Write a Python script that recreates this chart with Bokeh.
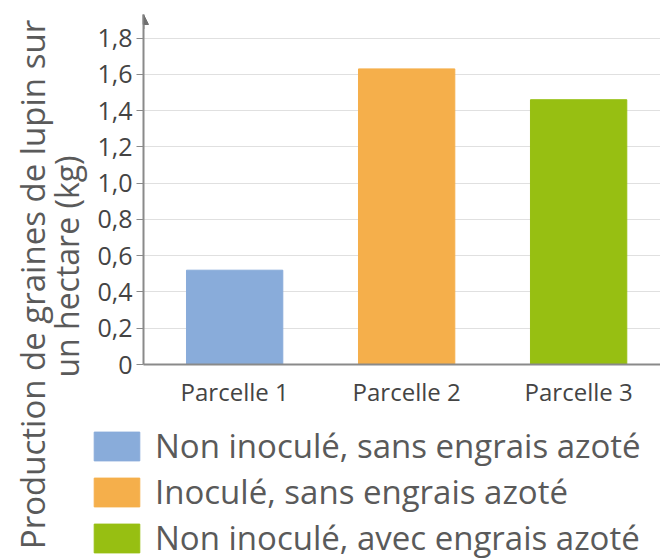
import math
from bokeh.plotting import figure
from bokeh.layouts import row, column
from bokeh.models import (ColumnDataSource, FixedTicker, Range1d, Label, Legend,
                          LegendItem, Arrow, NormalHead)
from bokeh.embed import file_html
from bokeh.resources import INLINE

categories = ["Parcelle 1", "Parcelle 2", "Parcelle 3"]
values = [0.52, 1.63, 1.46]
series_labels = ["Non inoculé, sans engrais azoté",
                 "Inoculé, sans engrais azoté",
                 "Non inoculé, avec engrais azoté"]
colors = ["#89acda", "#f5af4b", "#97bf12"]
y_ticks = [0, 0.2, 0.4, 0.6, 0.8, 1.0, 1.2, 1.4, 1.6, 1.8]
y_tick_labels = ["0", "0,2", "0,4", "0,6", "0,8", "1,0", "1,2", "1,4", "1,6", "1,8"]
y_label_lines = ["Production de graines de lupin sur", "un hectare (kg)"]

FONT = "Open Sans"
TEXT = "#5a5a5a"
LEFT_W = 88
TOTAL_W = 660
TOTAL_H = 559
MAIN_H = 410

xs = [i + 0.5 for i in range(len(categories))]
src = ColumnDataSource(dict(x=xs, top=values, color=colors, label=series_labels))

# ---------------- main chart ----------------
p = figure(width=TOTAL_W - LEFT_W, height=MAIN_H, output_backend="svg",
           toolbar_location=None,
           x_range=Range1d(-0.03, 2.976), y_range=Range1d(0, 1.93),
           min_border_left=143 - LEFT_W, min_border_right=0, min_border_top=14,
           min_border_bottom=MAIN_H - 368)
p.outline_line_color = None

r = p.vbar(x="x", top="top", width=0.56, bottom=0, color="color", source=src)

p.xaxis.ticker = FixedTicker(ticks=xs)
p.xaxis.major_label_overrides = {x: c for x, c in zip(xs, categories)}
p.xaxis.major_tick_line_color = None
p.xaxis.minor_tick_line_color = None
p.xaxis.axis_line_color = "#8a8a8a"
p.xaxis.axis_line_width = 2
p.xaxis.major_label_text_font = FONT
p.xaxis.major_label_text_font_size = "24px"
p.xaxis.major_label_text_color = "#444444"
p.xaxis.major_label_standoff = 4

p.yaxis.ticker = FixedTicker(ticks=y_ticks)
p.yaxis.major_label_overrides = {t: l for t, l in zip(y_ticks, y_tick_labels)}
p.yaxis.minor_tick_line_color = None
p.yaxis.major_tick_in = 0
p.yaxis.major_tick_out = 7
p.yaxis.major_tick_line_color = "#8a8a8a"
p.yaxis.axis_line_color = "#8a8a8a"
p.yaxis.axis_line_width = 2
p.yaxis.major_label_text_font = FONT
p.yaxis.major_label_text_font_size = "25px"
p.yaxis.major_label_text_color = "#444444"
p.yaxis.major_label_standoff = 4

p.xgrid.grid_line_color = None
p.ygrid.ticker = FixedTicker(ticks=y_ticks[1:])
p.ygrid.grid_line_color = "#e0e0e0"
p.ygrid.grid_line_width = 1

p.add_layout(Arrow(end=NormalHead(size=10, fill_color="#707070", line_color="#707070"),
                   x_start=-0.03, y_start=1.85, x_end=-0.03, y_end=1.93,
                   line_color="#8a8a8a", line_width=2))

# ---------------- y title panel ----------------
lab = figure(width=LEFT_W, height=TOTAL_H, output_backend="svg",
             toolbar_location=None, x_range=(0, 1), y_range=(0, 1),
             min_border=0)
lab.axis.visible = False
lab.grid.visible = False
lab.outline_line_color = None
lab.add_layout(Label(x=32, y=TOTAL_H - 284, x_units="screen", y_units="screen",
                     text=y_label_lines[0], angle=math.pi / 2, text_align="center",
                     text_baseline="middle", text_font=FONT, text_font_size="33px",
                     text_color=TEXT))
lab.add_layout(Label(x=66, y=TOTAL_H - 266, x_units="screen", y_units="screen",
                     text=y_label_lines[1], angle=math.pi / 2, text_align="center",
                     text_baseline="middle", text_font=FONT, text_font_size="32px",
                     text_color=TEXT))

# ---------------- legend panel ----------------
LEG_H = TOTAL_H - MAIN_H
lg = figure(width=TOTAL_W - LEFT_W, height=LEG_H, output_backend="svg",
            toolbar_location=None, x_range=(0, 1), y_range=(10, 11), min_border=0)
lg.axis.visible = False
lg.grid.visible = False
lg.outline_line_color = None
rl = lg.vbar(x="x", top="top", width=0.56, bottom=0, color="color", source=src)
legend = Legend(items=[LegendItem(label=series_labels[i], renderers=[rl], index=i)
                       for i in range(len(categories))],
                location=(0, -1), glyph_width=57, glyph_height=36,
                spacing=1, label_standoff=10, padding=0, margin=0,
                label_text_font=FONT, label_text_font_size="33px",
                label_text_color=TEXT, border_line_color=None,
                background_fill_alpha=0)
lg.add_layout(legend, "center")

layout = row(lab, column(p, row(lg, spacing=0), spacing=0), spacing=0)
open("out.html", "w").write(file_html(layout, INLINE))
